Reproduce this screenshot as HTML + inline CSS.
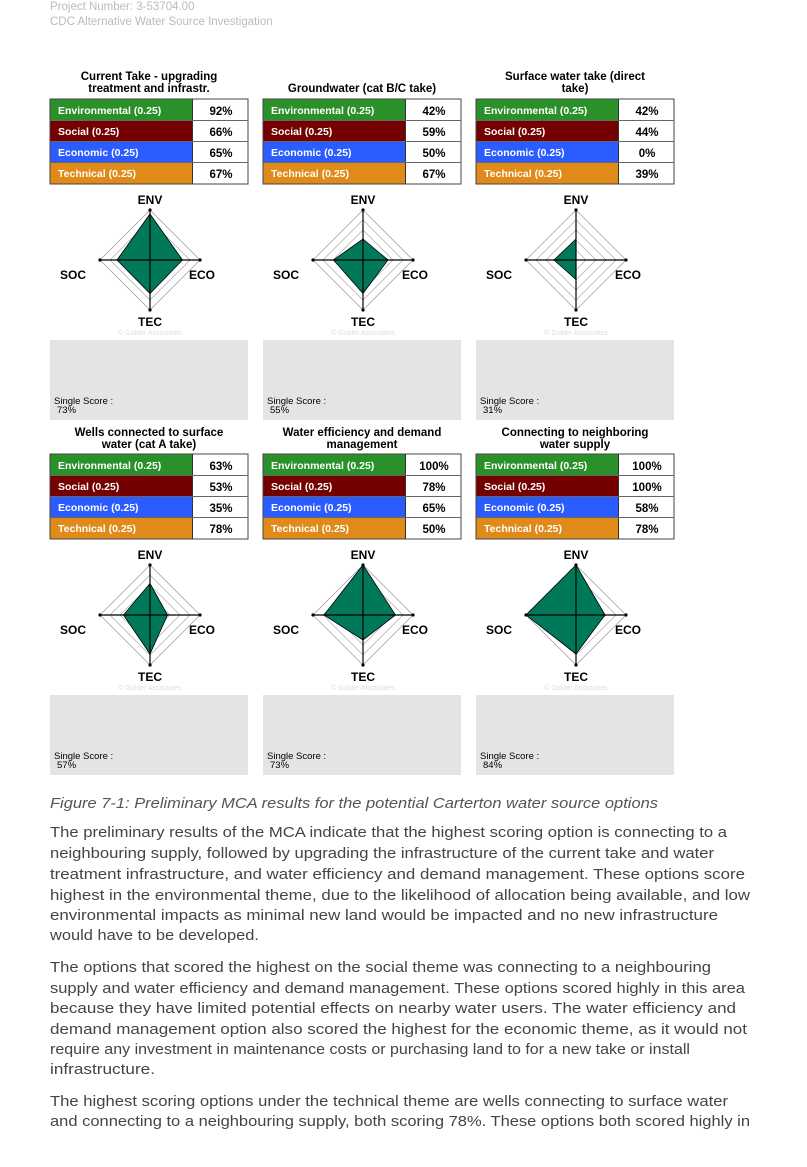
<!DOCTYPE html>
<html><head><meta charset="utf-8"><style>
html,body{margin:0;padding:0;background:#fff;}
svg{display:block;}
.t{font-family:"Liberation Sans",Arial,sans-serif;}
.b{font-weight:bold;}
.body{font-family:"Liberation Sans",sans-serif;font-size:15px;fill:#444;}
</style></head><body>
<svg width="807" height="1167" viewBox="0 0 807 1167" xmlns="http://www.w3.org/2000/svg" class="t">
<text x="50" y="10" font-size="11.5" fill="#bbb">Project Number: 3-53704.00</text>
<text x="50" y="25" font-size="11.5" fill="#bbb">CDC Alternative Water Source Investigation</text>

<defs>
<g id="grid">
<polygon points="0,-50 50,0 0,50 -50,0" fill="none" stroke="#999" stroke-width="0.7"/>
<polygon points="0,-40 40,0 0,40 -40,0" fill="none" stroke="#aaa" stroke-width="0.7"/>
<polygon points="0,-30 30,0 0,30 -30,0" fill="none" stroke="#aaa" stroke-width="0.7"/>
<polygon points="0,-20 20,0 0,20 -20,0" fill="none" stroke="#aaa" stroke-width="0.7"/>
<polygon points="0,-10 10,0 0,10 -10,0" fill="none" stroke="#aaa" stroke-width="0.7"/>
</g>
<g id="axes">
<line x1="0" y1="-50" x2="0" y2="50" stroke="#000" stroke-width="1.2"/>
<line x1="-50" y1="0" x2="50" y2="0" stroke="#000" stroke-width="1.2"/>
<circle cx="0" cy="-50" r="1.6"/><circle cx="0" cy="50" r="1.6"/><circle cx="-50" cy="0" r="1.6"/><circle cx="50" cy="0" r="1.6"/>
<g class="b" font-size="12" fill="#000">
<text x="0" y="-56" text-anchor="middle">ENV</text>
<text x="-77" y="19" text-anchor="middle">SOC</text>
<text x="52" y="19" text-anchor="middle">ECO</text>
<text x="0" y="66" text-anchor="middle">TEC</text>
</g>
<text x="0" y="75" text-anchor="middle" font-size="7" fill="#ddd">© Golder Associates</text>
</g>
<g id="tbl">
<rect x="0" y="0" width="198" height="85" fill="#fff" stroke="#444" stroke-width="1"/>
<rect x="0.5" y="0.5" width="142" height="21" fill="#2a902a"/>
<rect x="0.5" y="21.5" width="142" height="21" fill="#750000"/>
<rect x="0.5" y="42.5" width="142" height="21" fill="#2a5cff"/>
<rect x="0.5" y="63.5" width="142" height="21" fill="#e08a1a"/>
<line x1="142.5" y1="0" x2="142.5" y2="85" stroke="#333"/>
<line x1="0" y1="21.5" x2="198" y2="21.5" stroke="#666"/>
<line x1="0" y1="42.5" x2="198" y2="42.5" stroke="#666"/>
<line x1="0" y1="63.5" x2="198" y2="63.5" stroke="#666"/>
<g class="b" font-size="10.5" fill="#fff">
<text x="8" y="15">Environmental (0.25)</text>
<text x="8" y="36">Social (0.25)</text>
<text x="8" y="57">Economic (0.25)</text>
<text x="8" y="78">Technical (0.25)</text>
</g>
</g>
<g id="box">
<rect x="0" y="0" width="198" height="80" fill="#e4e4e4"/>
<text x="4" y="64" font-size="9.5" fill="#000">Single Score :</text>
</g>
</defs>

<!-- Row 1 -->
<g class="b" font-size="11.5" text-anchor="middle" fill="#000">
<text x="149" y="80">Current Take - upgrading</text>
<text x="149" y="92">treatment and infrastr.</text>
<text x="362" y="92">Groundwater (cat B/C take)</text>
<text x="575" y="80">Surface water take (direct</text>
<text x="575" y="92">take)</text>
<text x="149" y="436">Wells connected to surface</text>
<text x="149" y="448">water (cat A take)</text>
<text x="362" y="436">Water efficiency and demand</text>
<text x="362" y="448">management</text>
<text x="575" y="436">Connecting to neighboring</text>
<text x="575" y="448">water supply</text>
</g>

<use href="#tbl" x="50" y="99"/><use href="#tbl" x="263" y="99"/><use href="#tbl" x="476" y="99"/>
<use href="#tbl" x="50" y="454"/><use href="#tbl" x="263" y="454"/><use href="#tbl" x="476" y="454"/>

<g class="b" font-size="11.5" text-anchor="middle" fill="#000">
<text x="221" y="115">92%</text><text x="221" y="136">66%</text><text x="221" y="157">65%</text><text x="221" y="178">67%</text>
<text x="434" y="115">42%</text><text x="434" y="136">59%</text><text x="434" y="157">50%</text><text x="434" y="178">67%</text>
<text x="647" y="115">42%</text><text x="647" y="136">44%</text><text x="647" y="157">0%</text><text x="647" y="178">39%</text>
<text x="221" y="470">63%</text><text x="221" y="491">53%</text><text x="221" y="512">35%</text><text x="221" y="533">78%</text>
<text x="434" y="470">100%</text><text x="434" y="491">78%</text><text x="434" y="512">65%</text><text x="434" y="533">50%</text>
<text x="647" y="470">100%</text><text x="647" y="491">100%</text><text x="647" y="512">58%</text><text x="647" y="533">78%</text>
</g>

<use href="#grid" x="150" y="260"/><use href="#grid" x="363" y="260"/><use href="#grid" x="576" y="260"/>
<use href="#grid" x="150" y="615"/><use href="#grid" x="363" y="615"/><use href="#grid" x="576" y="615"/>

<g fill="#00785a" stroke="#000" stroke-width="0.8">
<polygon points="150,214 182.5,260 150,293.5 117,260"/>
<polygon points="363,239 388,260 363,293.5 333.5,260"/>
<polygon points="576,239 576,260 576,279.5 554,260"/>
<polygon points="150,583.5 167.5,615 150,654 123.5,615"/>
<polygon points="363,565 395.5,615 363,640 324,615"/>
<polygon points="576,565 605,615 576,654 526,615"/>
</g>

<use href="#axes" x="150" y="260"/><use href="#axes" x="363" y="260"/><use href="#axes" x="576" y="260"/>
<use href="#axes" x="150" y="615"/><use href="#axes" x="363" y="615"/><use href="#axes" x="576" y="615"/>

<use href="#box" x="50" y="340"/><use href="#box" x="263" y="340"/><use href="#box" x="476" y="340"/>
<use href="#box" x="50" y="695"/><use href="#box" x="263" y="695"/><use href="#box" x="476" y="695"/>
<g font-size="9.5" fill="#000">
<text x="57" y="413">73%</text><text x="270" y="413">55%</text><text x="483" y="413">31%</text>
<text x="57" y="768">57%</text><text x="270" y="768">73%</text><text x="483" y="768">84%</text>
</g>

<text x="50" y="808" font-size="14.5" font-style="italic" fill="#555" textLength="608" lengthAdjust="spacingAndGlyphs">Figure 7-1: Preliminary MCA results for the potential Carterton water source options</text>

<g class="body">
<text x="50" y="837" textLength="677" lengthAdjust="spacingAndGlyphs">The preliminary results of the MCA indicate that the highest scoring option is connecting to a</text>
<text x="50" y="858" textLength="664" lengthAdjust="spacingAndGlyphs">neighbouring supply, followed by upgrading the infrastructure of the current take and water</text>
<text x="50" y="879" textLength="695" lengthAdjust="spacingAndGlyphs">treatment infrastructure, and water efficiency and demand management. These options score</text>
<text x="50" y="900" textLength="700" lengthAdjust="spacingAndGlyphs">highest in the environmental theme, due to the likelihood of allocation being available, and low</text>
<text x="50" y="920" textLength="668" lengthAdjust="spacingAndGlyphs">environmental impacts as minimal new land would be impacted and no new infrastructure</text>
<text x="50" y="940" textLength="209" lengthAdjust="spacingAndGlyphs">would have to be developed.</text>

<text x="50" y="972" textLength="661" lengthAdjust="spacingAndGlyphs">The options that scored the highest on the social theme was connecting to a neighbouring</text>
<text x="50" y="993" textLength="695" lengthAdjust="spacingAndGlyphs">supply and water efficiency and demand management. These options scored highly in this area</text>
<text x="50" y="1013" textLength="686" lengthAdjust="spacingAndGlyphs">because they have limited potential effects on nearby water users. The water efficiency and</text>
<text x="50" y="1034" textLength="697" lengthAdjust="spacingAndGlyphs">demand management option also scored the highest for the economic theme, as it would not</text>
<text x="50" y="1054" textLength="640" lengthAdjust="spacingAndGlyphs">require any investment in maintenance costs or purchasing land to for a new take or install</text>
<text x="50" y="1074" textLength="105" lengthAdjust="spacingAndGlyphs">infrastructure.</text>

<text x="50" y="1106" textLength="678" lengthAdjust="spacingAndGlyphs">The highest scoring options under the technical theme are wells connecting to surface water</text>
<text x="50" y="1126" textLength="700" lengthAdjust="spacingAndGlyphs">and connecting to a neighbouring supply, both scoring 78%. These options both scored highly in</text>
</g>
</svg>
</body></html>
